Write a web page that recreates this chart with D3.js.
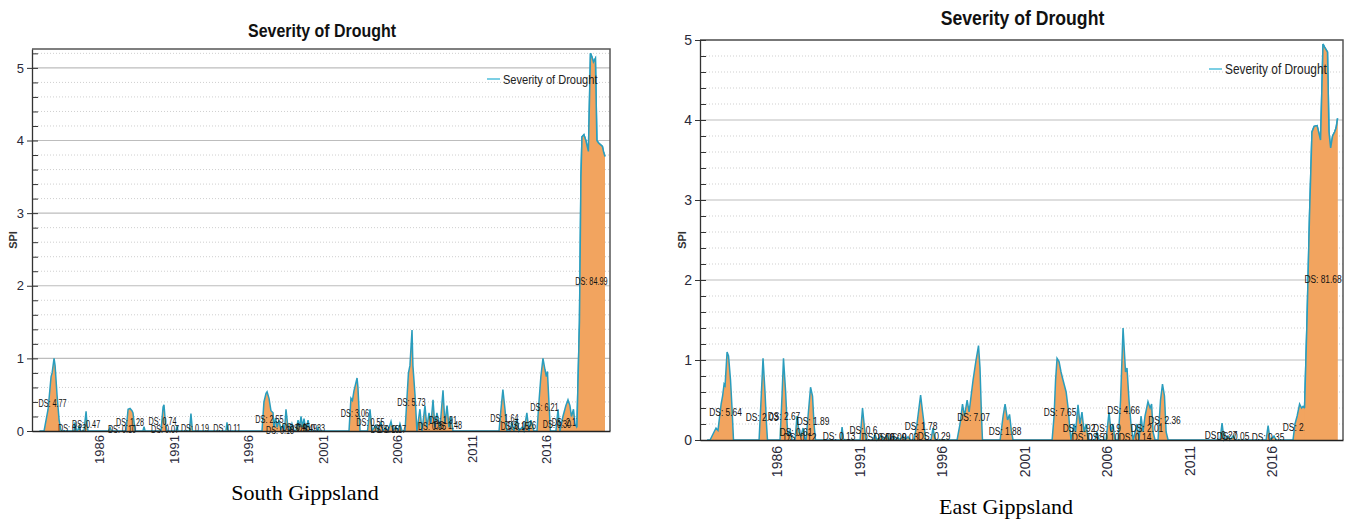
<!DOCTYPE html>
<html>
<head>
<meta charset="utf-8">
<script src="https://cdn.jsdelivr.net/npm/d3@7"></script>
<style>
  body { margin: 0; background: #fff; }
  svg { display: block; font-family: "Liberation Sans", Arial, sans-serif; }
</style>
</head>
<body>
<svg id="chart" width="1355" height="522"></svg>
<script>
// year ticks shared by both panels
var yearTicks = [1986, 1991, 1996, 2001, 2006, 2011, 2016];
var chartTitle = "Severity of Drought";
var yLabel = "SPI";

// South Gippsland: [decimal year, drought severity (SPI units)]
var southSeries = [
  [1982.00,0],[1982.31,0],[1982.58,0.3],[1982.78,0.75],[1982.85,0.8],[1982.98,1.0],[1983.05,0.9],[1983.18,0.5],[1983.32,0.15],[1983.45,0],
  [1984.32,0],[1984.39,0.12],[1984.49,0],[1984.56,0],[1984.66,0.06],[1984.76,0],
  [1984.99,0],[1985.13,0.27],[1985.19,0.1],[1985.26,0],
  [1986.64,0],[1986.74,0.05],[1986.84,0],
  [1987.81,0],[1987.95,0.3],[1988.08,0.31],[1988.21,0.28],[1988.28,0.25],[1988.42,0],
  [1988.95,0],[1989.02,0.06],[1989.09,0],
  [1990.16,0],[1990.30,0.33],[1990.36,0.36],[1990.46,0.1],[1990.56,0],
  [1991.17,0],[1991.23,0.07],[1991.30,0],
  [1992.07,0],[1992.17,0.24],[1992.27,0],
  [1994.52,0],[1994.59,0.12],[1994.66,0],
  [1996.94,0],[1997.07,0.4],[1997.21,0.52],[1997.28,0.54],[1997.41,0.45],[1997.54,0.28],[1997.68,0.25],[1997.74,0.05],
  [1997.85,0.18],[1997.95,0.05],[1998.08,0.15],[1998.21,0.02],[1998.35,0.08],[1998.45,0],[1998.55,0.3],[1998.68,0.05],
  [1998.82,0],[1998.95,0.1],[1999.09,0],[1999.22,0],[1999.36,0.15],[1999.46,0.05],[1999.56,0.2],[1999.66,0.05],
  [1999.76,0.17],[1999.89,0],[2000.03,0.15],[2000.16,0],
  [2000.63,0],[2000.70,0.05],[2000.77,0],
  [2002.78,0],[2002.91,0.45],[2003.01,0.42],[2003.11,0.55],[2003.32,0.73],[2003.38,0.6],[2003.52,0],
  [2004.02,0],[2004.19,0.3],[2004.32,0],[2004.59,0.08],[2004.72,0],[2004.93,0.12],[2005.06,0],[2005.26,0.05],
  [2005.40,0],[2005.60,0.13],[2005.73,0],[2005.93,0.06],[2006.07,0],[2006.20,0.1],[2006.34,0],
  [2006.54,0],[2006.67,0.45],[2006.77,0.8],[2006.87,0.9],[2007.01,1.39],[2007.07,0.9],[2007.21,0.5],[2007.34,0],
  [2007.54,0.3],[2007.68,0],[2007.88,0.35],[2008.01,0.05],[2008.15,0.25],[2008.28,0.1],[2008.42,0.43],[2008.55,0.05],
  [2008.68,0.25],[2008.89,0.05],[2009.09,0.56],[2009.22,0.1],[2009.36,0.35],[2009.49,0.05],[2009.62,0.2],[2009.76,0],
  [2012.85,0],[2012.98,0.3],[2013.11,0.57],[2013.25,0.3],[2013.38,0],
  [2013.58,0],[2013.72,0.12],[2013.85,0],[2014.05,0.17],[2014.19,0],[2014.39,0.05],[2014.52,0],[2014.72,0.25],
  [2014.86,0],[2014.99,0.15],[2015.19,0],
  [2015.40,0],[2015.53,0.4],[2015.66,0.75],[2015.80,1.0],[2015.93,0.85],[2016.03,0.75],[2016.10,0.82],[2016.20,0.4],[2016.30,0],
  [2016.67,0],[2016.81,0.3],[2016.94,0],[2017.14,0.2],[2017.34,0.35],[2017.48,0.43],[2017.61,0.35],[2017.71,0.2],
  [2017.85,0.3],[2017.95,0.1],
  [2018.08,0.05],[2018.25,1.5],[2018.35,3.5],[2018.42,4.05],[2018.55,4.08],[2018.68,4.0],[2018.85,3.85],[2018.99,5.2],
  [2019.09,5.15],[2019.19,5.08],[2019.32,5.13],[2019.42,4.0],[2019.52,3.97],[2019.62,3.95],[2019.79,3.92],[2019.86,3.85],[2019.96,3.78]
];
// event labels: [decimal year, SPI, text]
var southLabels = [
  [1984.19,0.04,"DS: 0.13"],[1982.88,0.39,"DS: 4.77"],[1985.13,0.09,"DS: 0.47"],[1987.54,0.03,"DS: 0.10"],
  [1988.08,0.12,"DS: 1.28"],[1990.43,0.03,"DS: 0.07"],[1990.26,0.14,"DS: 0.74"],[1992.44,0.04,"DS: 0.19"],
  [1994.59,0.04,"DS: 0.11"],[1998.15,0.015,"DS: 0.18"],[1997.44,0.165,"DS: 2.55"],[1999.22,0.055,"DS: 0.45"],
  [1999.69,0.04,"DS: 0.49"],[2000.23,0.04,"DS: 0.33"],[2003.18,0.25,"DS: 3.06"],[2005.19,0.03,"DS: 0.15"],
  [2005.66,0.02,"DS: 0.17"],[2004.22,0.12,"DS: 0.55"],[2006.97,0.40,"DS: 5.73"],[2008.35,0.07,"DS: 0.35"],
  [2009.09,0.15,"DS: 1.91"],[2009.42,0.08,"DS: 1.48"],[2013.92,0.07,"DS: 0.15"],[2013.21,0.18,"DS: 1.64"],
  [2014.39,0.08,"DS: 0.26"],[2015.90,0.33,"DS: 6.21"],[2016.74,0.10,"DS: 0.30"],[2017.34,0.12,"DS: 2.17"],
  [2019.05,2.07,"DS: 84.99"]
];
var southLastEventStart = 2018.0;

// East Gippsland
var eastSeries = [
  [1981.76,0],[1981.94,0],[1982.06,0.05],[1982.30,0.15],[1982.42,0.12],[1982.61,0.45],[1982.70,0.55],[1982.79,0.7],
  [1982.85,0.68],[1982.97,1.1],[1983.06,1.05],[1983.18,0.75],[1983.27,0.4],[1983.36,0],
  [1984.91,0],[1985.03,0.5],[1985.15,1.02],[1985.27,0.6],[1985.36,0.2],[1985.42,0],
  [1986.18,0],[1986.30,0.55],[1986.39,1.02],[1986.52,0.6],[1986.61,0.2],[1986.67,0.05],[1986.79,0.12],[1986.91,0],
  [1987.09,0],[1987.21,0.3],[1987.33,0.1],[1987.45,0.05],[1987.58,0.15],[1987.70,0],
  [1987.76,0],[1987.88,0.3],[1988.03,0.66],[1988.15,0.55],[1988.24,0.2],[1988.33,0],
  [1989.85,0],[1989.94,0.16],[1990.03,0],
  [1991.03,0],[1991.18,0.4],[1991.30,0.15],[1991.39,0],
  [1991.82,0],[1991.94,0.07],[1992.06,0],[1992.30,0.05],[1992.42,0],[1992.67,0.06],[1992.79,0],[1993.03,0.04],
  [1993.15,0],[1993.33,0.03],[1993.45,0],[1993.64,0.05],[1993.76,0],[1993.94,0.04],[1994.06,0],
  [1994.30,0],[1994.48,0.2],[1994.70,0.56],[1994.82,0.35],[1994.91,0.2],[1995.00,0],
  [1995.33,0],[1995.45,0.15],[1995.58,0],
  [1996.91,0],[1997.09,0.2],[1997.24,0.45],[1997.36,0.3],[1997.52,0.5],[1997.64,0.35],[1997.76,0.55],[1997.88,0.75],
  [1998.06,1.0],[1998.21,1.18],[1998.30,0.9],[1998.39,0.3],[1998.45,0],
  [1999.52,0],[1999.70,0.3],[1999.82,0.45],[1999.97,0.25],[2000.09,0.32],[2000.21,0.1],[2000.30,0],
  [2002.67,0],[2002.79,0.3],[2002.88,0.75],[2002.97,1.02],[2003.09,0.98],[2003.21,0.85],[2003.33,0.75],[2003.52,0.6],
  [2003.64,0.4],[2003.76,0.1],[2003.82,0],
  [2004.00,0.2],[2004.09,0.1],[2004.24,0.44],[2004.36,0.2],[2004.48,0.35],[2004.61,0.1],[2004.73,0.2],[2004.85,0],
  [2005.27,0],[2005.39,0.1],[2005.52,0],
  [2005.94,0],[2006.12,0.35],[2006.24,0.1],[2006.36,0.2],[2006.48,0],
  [2006.67,0],[2006.82,0.5],[2006.97,1.4],[2007.12,0.85],[2007.21,0.9],[2007.33,0.5],[2007.45,0.2],[2007.58,0],
  [2007.82,0.2],[2007.94,0],[2008.06,0.3],[2008.18,0.1],[2008.30,0.3],[2008.48,0.48],[2008.61,0.4],[2008.70,0.45],
  [2008.79,0.1],[2008.91,0],
  [2009.09,0],[2009.24,0.5],[2009.36,0.7],[2009.48,0.55],[2009.58,0.1],[2009.70,0],
  [2012.85,0],[2012.97,0.21],[2013.09,0],[2013.33,0.05],[2013.45,0],[2013.64,0.05],[2013.76,0],
  [2015.64,0],[2015.76,0.18],[2015.88,0],[2016.12,0.05],[2016.24,0],
  [2017.27,0],[2017.39,0.2],[2017.52,0.3],[2017.67,0.45],[2017.79,0.4],[2017.88,0.42],[2017.97,0.4],
  [2018.12,1.5],[2018.27,2.8],[2018.42,3.85],[2018.55,3.92],[2018.73,3.93],[2018.94,3.75],[2019.09,4.95],[2019.21,4.9],
  [2019.36,4.85],[2019.45,3.85],[2019.55,3.65],[2019.67,3.8],[2019.79,3.85],[2019.88,3.9],[2019.97,4.02]
];
var eastLabels = [
  [1982.88,0.35,"DS: 5.64"],[1985.09,0.29,"DS: 2.03"],[1986.42,0.30,"DS: 2.67"],[1987.39,0.04,"DS: 0.12"],
  [1987.15,0.10,"DS: 0.61"],[1988.18,0.24,"DS: 1.89"],[1989.76,0.05,"DS: 0.13"],[1992.12,0.04,"DS: 0.06"],
  [1992.85,0.04,"DS: 0.09"],[1993.58,0.04,"DS: 0.03"],[1991.24,0.125,"DS: 0.6"],[1995.52,0.05,"DS: 0.29"],
  [1994.73,0.175,"DS: 1.78"],[1997.91,0.29,"DS: 7.07"],[1999.82,0.11,"DS: 1.88"],[2004.85,0.04,"DS: 0.15"],
  [2003.15,0.35,"DS: 7.65"],[2004.30,0.15,"DS: 1.92"],[2005.76,0.04,"DS: 0.10"],[2006.00,0.15,"DS: 0.9"],
  [2007.70,0.04,"DS: 0.14"],[2007.00,0.375,"DS: 4.66"],[2008.42,0.15,"DS: 2.01"],[2009.48,0.25,"DS: 2.36"],
  [2012.91,0.06,"DS: 0.27"],[2013.64,0.05,"DS: 0.05"],[2015.76,0.04,"DS: 0.35"],[2017.64,0.16,"DS: 2.14"],
  [2019.09,2.01,"DS: 81.68"]
];
var eastLastEventStart = 2017.95;

var svg = d3.select("#chart");

// the source chart is squeezed sideways, so its texts are narrow
function squeeze(sel, px, py, k) {
  sel.attr("transform", function(d) {
    return "translate(" + px(d) + "," + py(d) + ") scale(" + k + ",1)";
  });
}

function panel(opt) {
  var x = d3.scaleLinear().domain(opt.xDomain).range([opt.left, opt.right]);
  var y = d3.scaleLinear().domain([0, opt.yMax]).range([opt.bottom, opt.top]);
  var g = svg.append("g");

  // title
  g.append("text")
      .attr("text-anchor", "middle")
      .style("font-size", opt.titleSize + "px")
      .style("font-weight", "bold")
      .attr("fill", "#111")
      .text(chartTitle)
      .call(squeeze, function() { return (opt.left + opt.right) / 2 + 1; }, function() { return opt.titleY; }, 0.84);

  // grid: dotted minor every 0.2, solid at integers
  var minor = d3.range(0.2, opt.yMax, 0.2).filter(function(v) { return Math.abs(v - Math.round(v)) > 1e-6; });
  var major = d3.range(0, Math.floor(opt.yMax) + 1);
  g.selectAll(".minor").data(minor).enter().append("line")
      .attr("x1", opt.left).attr("x2", opt.right)
      .attr("y1", function(d) { return y(d); }).attr("y2", function(d) { return y(d); })
      .attr("stroke", "#cfcfcf").attr("stroke-dasharray", "1,2");
  g.selectAll(".major").data(major.filter(function(d) { return d > 0; })).enter().append("line")
      .attr("x1", opt.left).attr("x2", opt.right)
      .attr("y1", function(d) { return y(d); }).attr("y2", function(d) { return y(d); })
      .attr("stroke", "#bdbdbd").attr("stroke-width", 1.2);

  var area = d3.area()
      .x(function(d) { return x(d[0]); })
      .y0(y(0))
      .y1(function(d) { return y(d[1]); });
  var line = d3.line()
      .x(function(d) { return x(d[0]); })
      .y(function(d) { return y(d[1]); });

  function drawSeries(data) {
    g.append("path").datum(data)
        .attr("d", area)
        .attr("fill", "#f2a45f");
    g.append("path").datum(data)
        .attr("d", line)
        .attr("fill", "none")
        .attr("stroke", "#2a9dbd")
        .attr("stroke-width", 1.5);
  }
  function drawLabels(list) {
    g.append("g").selectAll("text").data(list).enter().append("text")
        .attr("dy", "0.35em")
        .attr("text-anchor", "middle")
        .style("font-size", opt.labelSize + "px")
        .attr("fill", "#111")
        .text(function(d) { return d[2]; })
        .call(squeeze, function(d) { return x(d[0]); }, function(d) { return y(d[1]); }, opt.labelK);
  }

  drawSeries(opt.series);
  drawLabels(opt.labels.filter(function(d) { return d[0] < opt.lastStart; }));
  // the last event is drawn again so it hides the label in front of it
  drawSeries(opt.series.filter(function(d) { return d[0] >= opt.lastStart; }));
  drawLabels(opt.labels.filter(function(d) { return d[0] >= opt.lastStart; }));

  // legend
  g.append("line")
      .attr("x1", opt.legendX - 16).attr("x2", opt.legendX - 3)
      .attr("y1", opt.top + opt.legendDy).attr("y2", opt.top + opt.legendDy)
      .attr("stroke", "#7ccfe4").attr("stroke-width", 2);
  g.append("text")
      .attr("dy", "0.35em")
      .style("font-size", opt.legendSize + "px")
      .attr("fill", "#222")
      .text(chartTitle)
      .call(squeeze, function() { return opt.legendX; }, function() { return opt.top + opt.legendDy; }, 0.85);

  // frame
  g.append("path")
      .attr("d", "M" + opt.left + "," + opt.top + "H" + opt.right + "V" + opt.bottom)
      .attr("fill", "none").attr("stroke", "#555").attr("stroke-width", 1.5);

  // y axis: outer ticks at integers, inner ticks every 0.2
  g.append("g")
      .attr("transform", "translate(" + opt.left + ",0)")
      .call(d3.axisRight(y).tickValues(minor.concat(major)).tickSize(6).tickFormat(""))
      .call(function(s) { s.select(".domain").remove(); s.selectAll("line").attr("stroke", "#333"); });
  var ya = g.append("g")
      .attr("transform", "translate(" + opt.left + ",0)")
      .call(d3.axisLeft(y).tickValues(major).tickSizeInner(5).tickSizeOuter(0).tickPadding(3).tickFormat(d3.format("d")));
  ya.select(".domain").attr("stroke", "#333").attr("stroke-width", 1.3);
  ya.selectAll("line").attr("stroke", "#333");
  ya.selectAll("text").style("font-family", "'Liberation Sans', sans-serif").style("font-size", opt.tickSize + "px").attr("fill", "#2a2a3a");

  // x axis with vertical year labels
  var xa = g.append("g")
      .attr("transform", "translate(0," + opt.bottom + ")")
      .call(d3.axisBottom(x).tickValues(yearTicks).tickSize(0).tickFormat(d3.format("d")));
  xa.select(".domain").attr("stroke", "#222").attr("stroke-width", 1.5);
  xa.selectAll("text")
      .attr("transform", "rotate(-90)")
      .attr("text-anchor", "end")
      .attr("x", -opt.yearGap)
      .attr("y", 0)
      .attr("dy", "0.35em")
      .style("font-family", "'Liberation Sans', sans-serif")
      .style("font-size", opt.tickSize + "px")
      .attr("fill", "#2a2a3a");

  // SPI
  g.append("text")
      .attr("transform", "translate(" + opt.spiX + "," + (opt.top + opt.bottom) / 2 + ") rotate(-90)")
      .attr("text-anchor", "middle")
      .attr("dy", "0.35em")
      .style("font-size", "11px")
      .style("font-weight", "bold")
      .attr("fill", "#333")
      .text(yLabel);

  // caption under the chart
  g.append("text")
      .attr("x", opt.captionX)
      .attr("y", opt.captionY)
      .attr("text-anchor", "middle")
      .style("font-family", "'Liberation Serif', serif")
      .style("font-size", "22px")
      .attr("fill", "#000")
      .text(opt.caption);
}

panel({
  series: southSeries, labels: southLabels, lastStart: southLastEventStart,
  xDomain: [1981.5, 2020.3], yMax: 5.26,
  left: 32, right: 610, top: 49, bottom: 431,
  titleY: 37, titleSize: 19,
  legendX: 503, legendDy: 30, legendSize: 13,
  labelSize: 11, labelK: 0.66, tickSize: 13, yearGap: 4, spiX: 13,
  caption: "South Gippsland", captionX: 305, captionY: 500
});

panel({
  series: eastSeries, labels: eastLabels, lastStart: eastLastEventStart,
  xDomain: [1981.33, 2020.3], yMax: 5,
  left: 700, right: 1343, top: 40, bottom: 440,
  titleY: 25, titleSize: 21,
  legendX: 1225, legendDy: 29, legendSize: 14,
  labelSize: 11.5, labelK: 0.73, tickSize: 14, yearGap: 6, spiX: 682,
  caption: "East Gippsland", captionX: 1006, captionY: 514
});
</script>
</body>
</html>
